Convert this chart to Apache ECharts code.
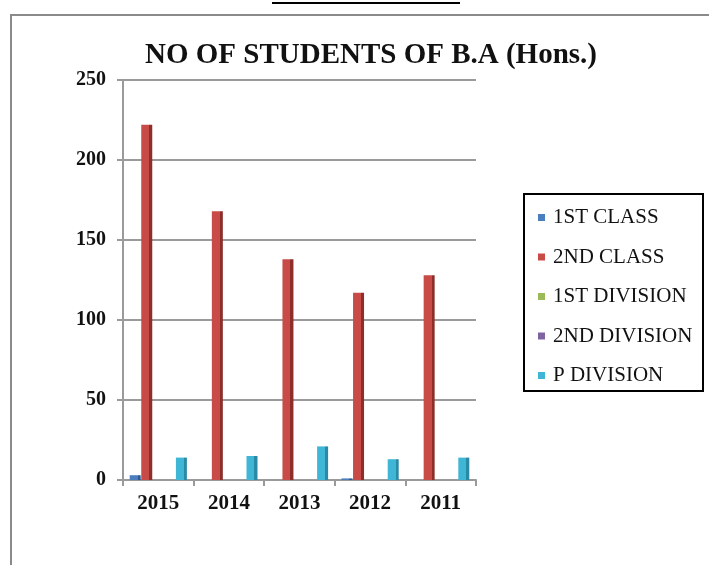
<!DOCTYPE html>
<html>
<head>
<meta charset="utf-8">
<script src="https://cdn.jsdelivr.net/npm/echarts@6/dist/echarts.min.js"></script>
<style>
  html, body { margin: 0; padding: 0; background: #fff; }
  #chart { width: 709px; height: 565px; }
</style>
</head>
<body>
<div id="chart"></div>
<script>
// data
var years = ['2015', '2014', '2013', '2012', '2011']
var firstClass = [3, 0, 0, 1, 0]
var secondClass = [222, 168, 138, 117, 128]
var firstDivision = [0, 0, 0, 0, 0]
var secondDivision = [0, 0, 0, 0, 0]
var pDivision = [14, 15, 21, 13, 14]
var yTicks = [0, 50, 100, 150, 200, 250]

var seriesNames = ['1ST CLASS', '2ND CLASS', '1ST DIVISION', '2ND DIVISION', 'P DIVISION']
var seriesData = [firstClass, secondClass, firstDivision, secondDivision, pDivision]
// front face / shaded side
var faceColors = ['#4a7ebf', '#c94b47', '#9bbb59', '#8064a2', '#3fb6d6']
var sideColors = ['#2f5a8f', '#8e2e2b', '#6f8a3a', '#5a4478', '#2a8aa6']

var serif = "'Liberation Serif', 'Times New Roman', serif"

var chart = echarts.init(document.getElementById('chart'))

function barColor(i) {
  return {
    type: 'linear', x: 0, y: 0, x2: 1, y2: 0,
    colorStops: [
      { offset: 0, color: faceColors[i] },
      { offset: 0.72, color: faceColors[i] },
      { offset: 0.72, color: sideColors[i] },
      { offset: 1, color: sideColors[i] }
    ]
  }
}

chart.setOption({
  backgroundColor: '#fff',
  animation: false,
  title: {
    text: 'NO OF STUDENTS OF B.A (Hons.)',
    left: 366,
    textAlign: 'center',
    top: 36,
    textStyle: {
      fontFamily: serif,
      fontWeight: 'bold',
      fontSize: 29,
      color: '#111'
    }
  },
  graphic: [
    {
      type: 'polyline',
      shape: { points: [[11, 565], [11, 15], [709, 15]] },
      style: { stroke: '#8a8a8a', lineWidth: 2, fill: null }
    },
    {
      type: 'line',
      shape: { x1: 272, y1: 3, x2: 460, y2: 3 },
      style: { stroke: '#000', lineWidth: 2 }
    },
    {
      type: 'rect',
      shape: { x: 524, y: 194, width: 179, height: 197 },
      style: { stroke: '#000', lineWidth: 2, fill: null }
    }
  ],
  legend: {
    orient: 'vertical',
    left: 533,
    top: 202,
    itemWidth: 7,
    itemHeight: 7,
    itemGap: 18.5,
    icon: 'rect',
    data: seriesNames.map(function (n, i) {
      return { name: n, itemStyle: { color: faceColors[i] } }
    }),
    textStyle: {
      fontFamily: serif,
      fontSize: 21,
      color: '#111',
      padding: [0, 0, 0, 3]
    }
  },
  grid: {
    left: 123,
    right: 233,
    top: 80,
    bottom: 85,
    containLabel: false
  },
  xAxis: {
    type: 'category',
    data: years,
    axisLine: { lineStyle: { color: '#9a9a9a', width: 2 } },
    axisTick: { show: true, length: 6, lineStyle: { color: '#9a9a9a', width: 2 } },
    axisLabel: {
      fontFamily: serif,
      fontWeight: 'bold',
      fontSize: 21,
      color: '#111',
      margin: 13
    }
  },
  yAxis: {
    type: 'value',
    min: yTicks[0],
    max: yTicks[yTicks.length - 1],
    interval: 50,
    axisLine: { show: true, lineStyle: { color: '#9a9a9a', width: 2 } },
    axisTick: { show: true, length: 6, lineStyle: { color: '#9a9a9a', width: 2 } },
    axisLabel: {
      fontFamily: serif,
      fontWeight: 'bold',
      fontSize: 20,
      color: '#111',
      margin: 17
    },
    splitLine: { lineStyle: { color: '#9a9a9a', width: 2 } }
  },
  series: seriesData.map(function (d, i) {
    return {
      name: seriesNames[i],
      type: 'bar',
      data: d,
      barWidth: 11,
      barGap: '5%',
      itemStyle: { color: barColor(i) }
    }
  })
})
</script>
</body>
</html>
